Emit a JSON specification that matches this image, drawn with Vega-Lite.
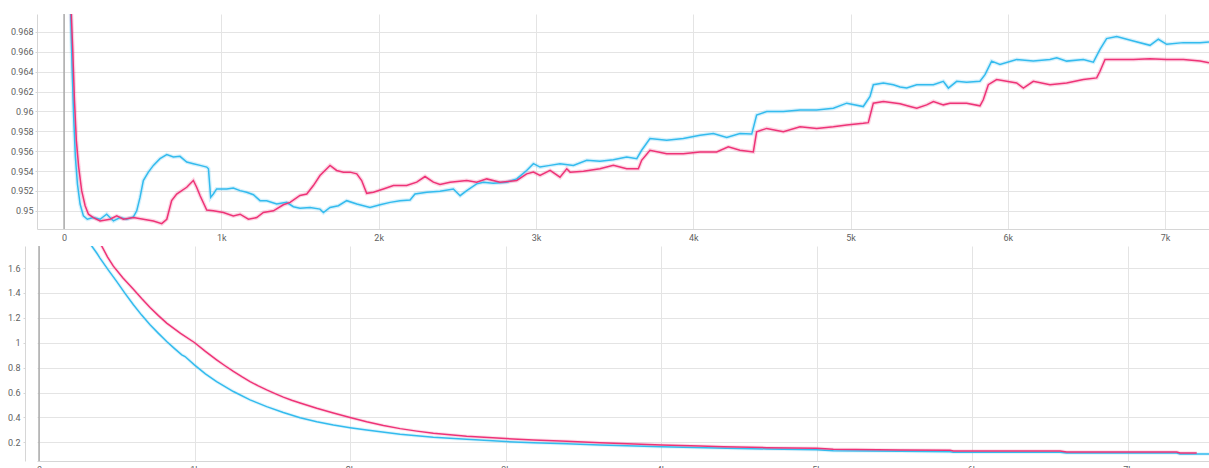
{
  "$schema": "https://vega.github.io/schema/vega-lite/v6.json",
  "autosize": {"type": "pad"},
  "padding": {"left": 7, "top": 13, "right": 0, "bottom": 0},
  "config": {
    "view": {"stroke": null},
    "font": "Roboto",
    "axis": {
      "labelFont": "Roboto",
      "labelFontSize": 9,
      "labelColor": "#5f5f5f",
      "labelOverlap": false,
      "gridColor": "#e4e4e4",
      "gridWidth": 1,
      "domainColor": "#d6d6d6",
      "tickColor": "#d6d6d6",
      "title": null
    }
  },
  "datasets": {
    "acc": [
      {"run": "run_1", "step": 30, "value": 0.975},
      {"run": "run_1", "step": 42, "value": 0.970},
      {"run": "run_1", "step": 51, "value": 0.96455},
      {"run": "run_1", "step": 61, "value": 0.95948},
      {"run": "run_1", "step": 72, "value": 0.95541},
      {"run": "run_1", "step": 85, "value": 0.95271},
      {"run": "run_1", "step": 102, "value": 0.95068},
      {"run": "run_1", "step": 123, "value": 0.94949},
      {"run": "run_1", "step": 148, "value": 0.94915},
      {"run": "run_1", "step": 186, "value": 0.94932},
      {"run": "run_1", "step": 229, "value": 0.94915},
      {"run": "run_1", "step": 271, "value": 0.94966},
      {"run": "run_1", "step": 314, "value": 0.94898},
      {"run": "run_1", "step": 356, "value": 0.94932},
      {"run": "run_1", "step": 398, "value": 0.94915},
      {"run": "run_1", "step": 441, "value": 0.94939},
      {"run": "run_1", "step": 462, "value": 0.95},
      {"run": "run_1", "step": 483, "value": 0.95135},
      {"run": "run_1", "step": 504, "value": 0.95305},
      {"run": "run_1", "step": 536, "value": 0.95389},
      {"run": "run_1", "step": 568, "value": 0.95457},
      {"run": "run_1", "step": 610, "value": 0.95525},
      {"run": "run_1", "step": 653, "value": 0.95565},
      {"run": "run_1", "step": 695, "value": 0.95541},
      {"run": "run_1", "step": 737, "value": 0.95548},
      {"run": "run_1", "step": 780, "value": 0.95491},
      {"run": "run_1", "step": 822, "value": 0.95474},
      {"run": "run_1", "step": 865, "value": 0.95457},
      {"run": "run_1", "step": 907, "value": 0.9544},
      {"run": "run_1", "step": 918, "value": 0.95423},
      {"run": "run_1", "step": 932, "value": 0.95135},
      {"run": "run_1", "step": 949, "value": 0.95169},
      {"run": "run_1", "step": 970, "value": 0.9522},
      {"run": "run_1", "step": 1034, "value": 0.9522},
      {"run": "run_1", "step": 1076, "value": 0.9523},
      {"run": "run_1", "step": 1119, "value": 0.95203},
      {"run": "run_1", "step": 1161, "value": 0.95186},
      {"run": "run_1", "step": 1204, "value": 0.95162},
      {"run": "run_1", "step": 1246, "value": 0.95102},
      {"run": "run_1", "step": 1288, "value": 0.95102},
      {"run": "run_1", "step": 1352, "value": 0.95068},
      {"run": "run_1", "step": 1415, "value": 0.95085},
      {"run": "run_1", "step": 1458, "value": 0.95041},
      {"run": "run_1", "step": 1500, "value": 0.95027},
      {"run": "run_1", "step": 1564, "value": 0.95034},
      {"run": "run_1", "step": 1627, "value": 0.95017},
      {"run": "run_1", "step": 1649, "value": 0.94983},
      {"run": "run_1", "step": 1691, "value": 0.95034},
      {"run": "run_1", "step": 1744, "value": 0.95051},
      {"run": "run_1", "step": 1797, "value": 0.95102},
      {"run": "run_1", "step": 1861, "value": 0.95068},
      {"run": "run_1", "step": 1945, "value": 0.95034},
      {"run": "run_1", "step": 2009, "value": 0.95061},
      {"run": "run_1", "step": 2073, "value": 0.95085},
      {"run": "run_1", "step": 2136, "value": 0.95102},
      {"run": "run_1", "step": 2200, "value": 0.95108},
      {"run": "run_1", "step": 2231, "value": 0.95169},
      {"run": "run_1", "step": 2306, "value": 0.95186},
      {"run": "run_1", "step": 2390, "value": 0.95196},
      {"run": "run_1", "step": 2475, "value": 0.9522},
      {"run": "run_1", "step": 2518, "value": 0.95152},
      {"run": "run_1", "step": 2560, "value": 0.95203},
      {"run": "run_1", "step": 2623, "value": 0.95271},
      {"run": "run_1", "step": 2666, "value": 0.95288},
      {"run": "run_1", "step": 2729, "value": 0.95277},
      {"run": "run_1", "step": 2814, "value": 0.95288},
      {"run": "run_1", "step": 2878, "value": 0.95321},
      {"run": "run_1", "step": 2941, "value": 0.95406},
      {"run": "run_1", "step": 2984, "value": 0.95474},
      {"run": "run_1", "step": 3026, "value": 0.9544},
      {"run": "run_1", "step": 3090, "value": 0.95457},
      {"run": "run_1", "step": 3153, "value": 0.95474},
      {"run": "run_1", "step": 3238, "value": 0.95457},
      {"run": "run_1", "step": 3323, "value": 0.95508},
      {"run": "run_1", "step": 3407, "value": 0.95499},
      {"run": "run_1", "step": 3492, "value": 0.95514},
      {"run": "run_1", "step": 3577, "value": 0.95541},
      {"run": "run_1", "step": 3641, "value": 0.95525},
      {"run": "run_1", "step": 3672, "value": 0.95609},
      {"run": "run_1", "step": 3725, "value": 0.95728},
      {"run": "run_1", "step": 3831, "value": 0.95711},
      {"run": "run_1", "step": 3937, "value": 0.95728},
      {"run": "run_1", "step": 4043, "value": 0.95761},
      {"run": "run_1", "step": 4128, "value": 0.95778},
      {"run": "run_1", "step": 4213, "value": 0.95738},
      {"run": "run_1", "step": 4297, "value": 0.95778},
      {"run": "run_1", "step": 4372, "value": 0.95772},
      {"run": "run_1", "step": 4403, "value": 0.95964},
      {"run": "run_1", "step": 4467, "value": 0.95998},
      {"run": "run_1", "step": 4573, "value": 0.95998},
      {"run": "run_1", "step": 4679, "value": 0.96015},
      {"run": "run_1", "step": 4785, "value": 0.96015},
      {"run": "run_1", "step": 4891, "value": 0.96032},
      {"run": "run_1", "step": 4976, "value": 0.96083},
      {"run": "run_1", "step": 5081, "value": 0.96049},
      {"run": "run_1", "step": 5124, "value": 0.96151},
      {"run": "run_1", "step": 5145, "value": 0.96269},
      {"run": "run_1", "step": 5209, "value": 0.96286},
      {"run": "run_1", "step": 5272, "value": 0.96269},
      {"run": "run_1", "step": 5315, "value": 0.96245},
      {"run": "run_1", "step": 5357, "value": 0.96235},
      {"run": "run_1", "step": 5421, "value": 0.96269},
      {"run": "run_1", "step": 5527, "value": 0.96269},
      {"run": "run_1", "step": 5590, "value": 0.96303},
      {"run": "run_1", "step": 5622, "value": 0.96235},
      {"run": "run_1", "step": 5675, "value": 0.96303},
      {"run": "run_1", "step": 5738, "value": 0.96293},
      {"run": "run_1", "step": 5823, "value": 0.96303},
      {"run": "run_1", "step": 5855, "value": 0.9637},
      {"run": "run_1", "step": 5897, "value": 0.96506},
      {"run": "run_1", "step": 5950, "value": 0.96472},
      {"run": "run_1", "step": 6056, "value": 0.96523},
      {"run": "run_1", "step": 6162, "value": 0.96506},
      {"run": "run_1", "step": 6268, "value": 0.96523},
      {"run": "run_1", "step": 6311, "value": 0.9654},
      {"run": "run_1", "step": 6374, "value": 0.96506},
      {"run": "run_1", "step": 6480, "value": 0.96523},
      {"run": "run_1", "step": 6544, "value": 0.96496},
      {"run": "run_1", "step": 6586, "value": 0.96624},
      {"run": "run_1", "step": 6628, "value": 0.96733},
      {"run": "run_1", "step": 6692, "value": 0.96753},
      {"run": "run_1", "step": 6798, "value": 0.96709},
      {"run": "run_1", "step": 6904, "value": 0.96665},
      {"run": "run_1", "step": 6957, "value": 0.96726},
      {"run": "run_1", "step": 7010, "value": 0.96675},
      {"run": "run_1", "step": 7116, "value": 0.96692},
      {"run": "run_1", "step": 7222, "value": 0.96692},
      {"run": "run_1", "step": 7279, "value": 0.96699},

      {"run": "run_2", "step": 35, "value": 0.975},
      {"run": "run_2", "step": 42, "value": 0.9713},
      {"run": "run_2", "step": 55, "value": 0.96624},
      {"run": "run_2", "step": 66, "value": 0.96117},
      {"run": "run_2", "step": 78, "value": 0.95711},
      {"run": "run_2", "step": 93, "value": 0.9544},
      {"run": "run_2", "step": 112, "value": 0.95203},
      {"run": "run_2", "step": 134, "value": 0.95051},
      {"run": "run_2", "step": 155, "value": 0.94966},
      {"run": "run_2", "step": 186, "value": 0.94932},
      {"run": "run_2", "step": 229, "value": 0.94898},
      {"run": "run_2", "step": 292, "value": 0.94915},
      {"run": "run_2", "step": 335, "value": 0.94949},
      {"run": "run_2", "step": 377, "value": 0.94915},
      {"run": "run_2", "step": 441, "value": 0.94932},
      {"run": "run_2", "step": 504, "value": 0.94915},
      {"run": "run_2", "step": 568, "value": 0.94898},
      {"run": "run_2", "step": 621, "value": 0.94871},
      {"run": "run_2", "step": 653, "value": 0.94915},
      {"run": "run_2", "step": 684, "value": 0.95102},
      {"run": "run_2", "step": 716, "value": 0.95169},
      {"run": "run_2", "step": 780, "value": 0.95237},
      {"run": "run_2", "step": 822, "value": 0.95305},
      {"run": "run_2", "step": 843, "value": 0.95237},
      {"run": "run_2", "step": 865, "value": 0.95152},
      {"run": "run_2", "step": 907, "value": 0.95007},
      {"run": "run_2", "step": 949, "value": 0.95},
      {"run": "run_2", "step": 1013, "value": 0.94983},
      {"run": "run_2", "step": 1076, "value": 0.94949},
      {"run": "run_2", "step": 1119, "value": 0.94966},
      {"run": "run_2", "step": 1172, "value": 0.94915},
      {"run": "run_2", "step": 1225, "value": 0.94932},
      {"run": "run_2", "step": 1267, "value": 0.94983},
      {"run": "run_2", "step": 1331, "value": 0.95},
      {"run": "run_2", "step": 1394, "value": 0.95061},
      {"run": "run_2", "step": 1437, "value": 0.95085},
      {"run": "run_2", "step": 1500, "value": 0.95155},
      {"run": "run_2", "step": 1543, "value": 0.95169},
      {"run": "run_2", "step": 1585, "value": 0.95254},
      {"run": "run_2", "step": 1627, "value": 0.95355},
      {"run": "run_2", "step": 1691, "value": 0.95457},
      {"run": "run_2", "step": 1733, "value": 0.95406},
      {"run": "run_2", "step": 1776, "value": 0.95389},
      {"run": "run_2", "step": 1818, "value": 0.95389},
      {"run": "run_2", "step": 1861, "value": 0.95372},
      {"run": "run_2", "step": 1892, "value": 0.95305},
      {"run": "run_2", "step": 1924, "value": 0.95176},
      {"run": "run_2", "step": 1967, "value": 0.95186},
      {"run": "run_2", "step": 2030, "value": 0.9522},
      {"run": "run_2", "step": 2094, "value": 0.95254},
      {"run": "run_2", "step": 2178, "value": 0.95254},
      {"run": "run_2", "step": 2242, "value": 0.95288},
      {"run": "run_2", "step": 2295, "value": 0.95345},
      {"run": "run_2", "step": 2348, "value": 0.95288},
      {"run": "run_2", "step": 2390, "value": 0.95264},
      {"run": "run_2", "step": 2454, "value": 0.95288},
      {"run": "run_2", "step": 2560, "value": 0.95305},
      {"run": "run_2", "step": 2623, "value": 0.95288},
      {"run": "run_2", "step": 2687, "value": 0.95321},
      {"run": "run_2", "step": 2772, "value": 0.95288},
      {"run": "run_2", "step": 2878, "value": 0.95305},
      {"run": "run_2", "step": 2941, "value": 0.95372},
      {"run": "run_2", "step": 2984, "value": 0.95389},
      {"run": "run_2", "step": 3026, "value": 0.95355},
      {"run": "run_2", "step": 3090, "value": 0.95406},
      {"run": "run_2", "step": 3153, "value": 0.95338},
      {"run": "run_2", "step": 3196, "value": 0.95423},
      {"run": "run_2", "step": 3217, "value": 0.95389},
      {"run": "run_2", "step": 3302, "value": 0.95399},
      {"run": "run_2", "step": 3407, "value": 0.95423},
      {"run": "run_2", "step": 3492, "value": 0.95457},
      {"run": "run_2", "step": 3577, "value": 0.95423},
      {"run": "run_2", "step": 3651, "value": 0.95423},
      {"run": "run_2", "step": 3672, "value": 0.95508},
      {"run": "run_2", "step": 3725, "value": 0.95609},
      {"run": "run_2", "step": 3831, "value": 0.95575},
      {"run": "run_2", "step": 3937, "value": 0.95575},
      {"run": "run_2", "step": 4043, "value": 0.95592},
      {"run": "run_2", "step": 4149, "value": 0.95592},
      {"run": "run_2", "step": 4223, "value": 0.95643},
      {"run": "run_2", "step": 4297, "value": 0.95609},
      {"run": "run_2", "step": 4382, "value": 0.95592},
      {"run": "run_2", "step": 4403, "value": 0.95795},
      {"run": "run_2", "step": 4467, "value": 0.95829},
      {"run": "run_2", "step": 4573, "value": 0.95795},
      {"run": "run_2", "step": 4679, "value": 0.95846},
      {"run": "run_2", "step": 4785, "value": 0.95829},
      {"run": "run_2", "step": 4891, "value": 0.95846},
      {"run": "run_2", "step": 4976, "value": 0.95863},
      {"run": "run_2", "step": 5081, "value": 0.9588},
      {"run": "run_2", "step": 5113, "value": 0.95887},
      {"run": "run_2", "step": 5145, "value": 0.96083},
      {"run": "run_2", "step": 5209, "value": 0.961},
      {"run": "run_2", "step": 5315, "value": 0.96076},
      {"run": "run_2", "step": 5378, "value": 0.96049},
      {"run": "run_2", "step": 5421, "value": 0.96032},
      {"run": "run_2", "step": 5484, "value": 0.96066},
      {"run": "run_2", "step": 5527, "value": 0.961},
      {"run": "run_2", "step": 5590, "value": 0.96066},
      {"run": "run_2", "step": 5632, "value": 0.96083},
      {"run": "run_2", "step": 5738, "value": 0.96083},
      {"run": "run_2", "step": 5823, "value": 0.96056},
      {"run": "run_2", "step": 5844, "value": 0.96117},
      {"run": "run_2", "step": 5876, "value": 0.96269},
      {"run": "run_2", "step": 5929, "value": 0.9632},
      {"run": "run_2", "step": 6056, "value": 0.96286},
      {"run": "run_2", "step": 6099, "value": 0.96235},
      {"run": "run_2", "step": 6162, "value": 0.96303},
      {"run": "run_2", "step": 6268, "value": 0.96269},
      {"run": "run_2", "step": 6374, "value": 0.96286},
      {"run": "run_2", "step": 6480, "value": 0.9632},
      {"run": "run_2", "step": 6565, "value": 0.96337},
      {"run": "run_2", "step": 6586, "value": 0.96404},
      {"run": "run_2", "step": 6618, "value": 0.96523},
      {"run": "run_2", "step": 6692, "value": 0.96523},
      {"run": "run_2", "step": 6798, "value": 0.96523},
      {"run": "run_2", "step": 6904, "value": 0.9653},
      {"run": "run_2", "step": 7010, "value": 0.96523},
      {"run": "run_2", "step": 7116, "value": 0.96523},
      {"run": "run_2", "step": 7222, "value": 0.96506},
      {"run": "run_2", "step": 7279, "value": 0.96489}
    ],
    "loss": [
      {"run": "run_1", "step": 320, "value": 1.81},
      {"run": "run_1", "step": 339, "value": 1.777},
      {"run": "run_1", "step": 371, "value": 1.721},
      {"run": "run_1", "step": 392, "value": 1.68},
      {"run": "run_1", "step": 445, "value": 1.585},
      {"run": "run_1", "step": 499, "value": 1.493},
      {"run": "run_1", "step": 553, "value": 1.397},
      {"run": "run_1", "step": 607, "value": 1.305},
      {"run": "run_1", "step": 660, "value": 1.222},
      {"run": "run_1", "step": 714, "value": 1.144},
      {"run": "run_1", "step": 768, "value": 1.075},
      {"run": "run_1", "step": 821, "value": 1.01},
      {"run": "run_1", "step": 870, "value": 0.955},
      {"run": "run_1", "step": 918, "value": 0.903},
      {"run": "run_1", "step": 939, "value": 0.889},
      {"run": "run_1", "step": 999, "value": 0.822},
      {"run": "run_1", "step": 1070, "value": 0.75},
      {"run": "run_1", "step": 1142, "value": 0.688},
      {"run": "run_1", "step": 1250, "value": 0.608},
      {"run": "run_1", "step": 1357, "value": 0.541},
      {"run": "run_1", "step": 1464, "value": 0.487},
      {"run": "run_1", "step": 1571, "value": 0.44},
      {"run": "run_1", "step": 1679, "value": 0.397},
      {"run": "run_1", "step": 1786, "value": 0.366},
      {"run": "run_1", "step": 1893, "value": 0.34},
      {"run": "run_1", "step": 2000, "value": 0.318},
      {"run": "run_1", "step": 2107, "value": 0.299},
      {"run": "run_1", "step": 2322, "value": 0.265},
      {"run": "run_1", "step": 2536, "value": 0.241},
      {"run": "run_1", "step": 2750, "value": 0.224},
      {"run": "run_1", "step": 3001, "value": 0.206},
      {"run": "run_1", "step": 3179, "value": 0.197},
      {"run": "run_1", "step": 3393, "value": 0.189},
      {"run": "run_1", "step": 3608, "value": 0.179},
      {"run": "run_1", "step": 4004, "value": 0.165},
      {"run": "run_1", "step": 4422, "value": 0.152},
      {"run": "run_1", "step": 4680, "value": 0.147},
      {"run": "run_1", "step": 5001, "value": 0.141},
      {"run": "run_1", "step": 5108, "value": 0.133},
      {"run": "run_1", "step": 5537, "value": 0.128},
      {"run": "run_1", "step": 5859, "value": 0.125},
      {"run": "run_1", "step": 5880, "value": 0.12},
      {"run": "run_1", "step": 6566, "value": 0.12},
      {"run": "run_1", "step": 6609, "value": 0.114},
      {"run": "run_1", "step": 7316, "value": 0.114},
      {"run": "run_1", "step": 7338, "value": 0.106},
      {"run": "run_1", "step": 7524, "value": 0.106},

      {"run": "run_2", "step": 385, "value": 1.81},
      {"run": "run_2", "step": 403, "value": 1.777},
      {"run": "run_2", "step": 440, "value": 1.69},
      {"run": "run_2", "step": 478, "value": 1.615},
      {"run": "run_2", "step": 540, "value": 1.52},
      {"run": "run_2", "step": 607, "value": 1.43},
      {"run": "run_2", "step": 660, "value": 1.355},
      {"run": "run_2", "step": 714, "value": 1.283},
      {"run": "run_2", "step": 768, "value": 1.218},
      {"run": "run_2", "step": 821, "value": 1.158},
      {"run": "run_2", "step": 910, "value": 1.075},
      {"run": "run_2", "step": 999, "value": 1.002},
      {"run": "run_2", "step": 1070, "value": 0.93},
      {"run": "run_2", "step": 1142, "value": 0.863},
      {"run": "run_2", "step": 1196, "value": 0.815},
      {"run": "run_2", "step": 1250, "value": 0.769},
      {"run": "run_2", "step": 1304, "value": 0.727},
      {"run": "run_2", "step": 1357, "value": 0.688},
      {"run": "run_2", "step": 1410, "value": 0.653},
      {"run": "run_2", "step": 1464, "value": 0.621},
      {"run": "run_2", "step": 1518, "value": 0.591},
      {"run": "run_2", "step": 1571, "value": 0.563},
      {"run": "run_2", "step": 1625, "value": 0.538},
      {"run": "run_2", "step": 1679, "value": 0.516},
      {"run": "run_2", "step": 1786, "value": 0.474},
      {"run": "run_2", "step": 1893, "value": 0.436},
      {"run": "run_2", "step": 2000, "value": 0.399},
      {"run": "run_2", "step": 2107, "value": 0.365},
      {"run": "run_2", "step": 2215, "value": 0.335},
      {"run": "run_2", "step": 2322, "value": 0.31},
      {"run": "run_2", "step": 2430, "value": 0.29},
      {"run": "run_2", "step": 2536, "value": 0.273},
      {"run": "run_2", "step": 2750, "value": 0.248},
      {"run": "run_2", "step": 3001, "value": 0.23},
      {"run": "run_2", "step": 3179, "value": 0.219},
      {"run": "run_2", "step": 3393, "value": 0.209},
      {"run": "run_2", "step": 3608, "value": 0.197},
      {"run": "run_2", "step": 4004, "value": 0.179},
      {"run": "run_2", "step": 4251, "value": 0.171},
      {"run": "run_2", "step": 4401, "value": 0.165},
      {"run": "run_2", "step": 4680, "value": 0.157},
      {"run": "run_2", "step": 5001, "value": 0.152},
      {"run": "run_2", "step": 5108, "value": 0.144},
      {"run": "run_2", "step": 5537, "value": 0.138},
      {"run": "run_2", "step": 5859, "value": 0.136},
      {"run": "run_2", "step": 5880, "value": 0.131},
      {"run": "run_2", "step": 6566, "value": 0.131},
      {"run": "run_2", "step": 6609, "value": 0.122},
      {"run": "run_2", "step": 7316, "value": 0.122},
      {"run": "run_2", "step": 7338, "value": 0.114},
      {"run": "run_2", "step": 7445, "value": 0.114}
    ],
    "origin": [{"step": 0}]
  },
  "spacing": 3,
  "vconcat": [
    {
      "width": 1172,
      "height": 215,
      "layer": [
        {
          "data": {"name": "origin"},
          "mark": {"type": "rule", "color": "#a0a0a0", "strokeWidth": 1.3},
          "encoding": {
            "x": {"field": "step", "type": "quantitative", "scale": {"domain": [-172, 7279], "nice": false, "zero": false}}
          }
        },
        {
          "data": {"name": "acc"},
          "mark": {"type": "line", "clip": true, "strokeWidth": 4, "opacity": 0.2},
          "encoding": {
            "x": {"field": "step", "type": "quantitative"},
            "y": {"field": "value", "type": "quantitative"},
            "color": {"field": "run", "type": "nominal", "scale": {"domain": ["run_1", "run_2"], "range": ["#33bbee", "#ee3377"]}, "legend": null}
          }
        },
        {
          "data": {"name": "acc"},
          "mark": {"type": "line", "clip": true, "strokeWidth": 1.5},
          "encoding": {
            "x": {
              "field": "step", "type": "quantitative",
              "scale": {"domain": [-172, 7279], "nice": false, "zero": false},
              "axis": {
                "values": [0, 1000, 2000, 3000, 4000, 5000, 6000, 7000],
                "tickCount": 20,
                "labelExpr": "datum.value == 0 ? '0' : datum.value / 1000 + 'k'",
                "ticks": false, "labelPadding": 4, "minExtent": 12, "maxExtent": 12
              }
            },
            "y": {
              "field": "value", "type": "quantitative",
              "scale": {"domain": [0.94817, 0.9698], "nice": false, "zero": false},
              "axis": {
                "values": [0.95, 0.952, 0.954, 0.956, 0.958, 0.96, 0.962, 0.964, 0.966, 0.968],
                "tickCount": 20,
                "labelExpr": "format(datum.value, '.3~f')",
                "labelOverlap": false, "labelBound": false, "labelFlush": false,
                "tickSize": 2, "labelPadding": 2
              }
            },
            "color": {"field": "run", "type": "nominal", "scale": {"domain": ["run_1", "run_2"], "range": ["#33bbee", "#ee3377"]}, "legend": null}
          }
        }
      ]
    },
    {
      "width": 1172,
      "height": 215,
      "layer": [
        {
          "data": {"name": "origin"},
          "mark": {"type": "rule", "color": "#a0a0a0", "strokeWidth": 1.3},
          "encoding": {
            "x": {"field": "step", "type": "quantitative", "scale": {"domain": [-13, 7524], "nice": false, "zero": false}}
          }
        },
        {
          "data": {"name": "loss"},
          "mark": {"type": "line", "clip": true, "strokeWidth": 3.5, "opacity": 0.15},
          "encoding": {
            "x": {"field": "step", "type": "quantitative"},
            "y": {"field": "value", "type": "quantitative"},
            "color": {"field": "run", "type": "nominal", "scale": {"domain": ["run_1", "run_2"], "range": ["#33bbee", "#ee3377"]}, "legend": null}
          }
        },
        {
          "data": {"name": "loss"},
          "mark": {"type": "line", "clip": true, "strokeWidth": 1.5},
          "encoding": {
            "x": {
              "field": "step", "type": "quantitative",
              "scale": {"domain": [-13, 7524], "nice": false, "zero": false},
              "axis": {
                "values": [0, 1000, 2000, 3000, 4000, 5000, 6000, 7000],
                "tickCount": 20,
                "labelExpr": "datum.value == 0 ? '0' : datum.value / 1000 + 'k'",
                "ticks": false, "labelPadding": 4
              }
            },
            "y": {
              "field": "value", "type": "quantitative",
              "scale": {"domain": [0.05, 1.777], "nice": false, "zero": false},
              "axis": {
                "values": [0.2, 0.4, 0.6, 0.8, 1, 1.2, 1.4, 1.6],
                "tickCount": 20,
                "labelExpr": "format(datum.value, '.1~f')",
                "labelOverlap": false, "labelBound": false, "labelFlush": false,
                "tickSize": 2, "labelPadding": 3, "offset": 12
              }
            },
            "color": {"field": "run", "type": "nominal", "scale": {"domain": ["run_1", "run_2"], "range": ["#33bbee", "#ee3377"]}, "legend": null}
          }
        }
      ]
    }
  ]
}
